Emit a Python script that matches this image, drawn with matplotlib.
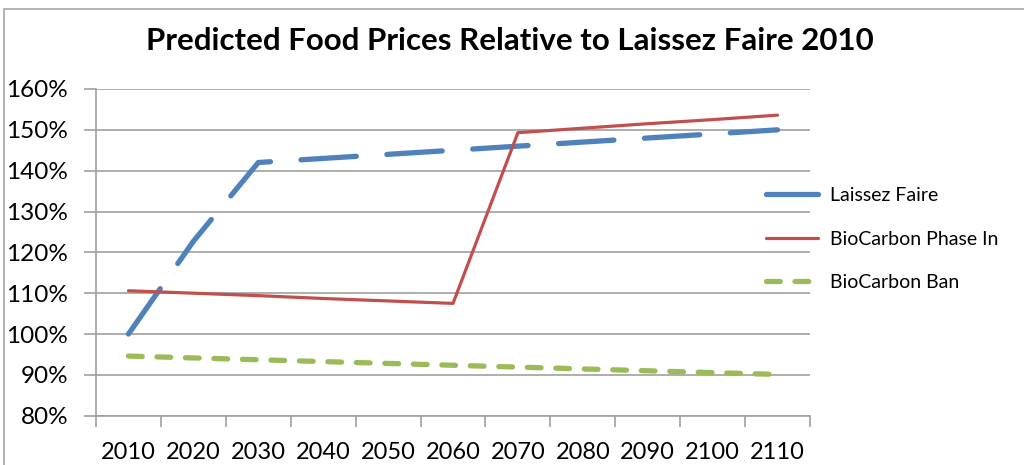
import matplotlib
matplotlib.use('Agg')
import matplotlib.pyplot as plt
from matplotlib.patches import Rectangle
from matplotlib.ticker import FuncFormatter

plt.rcParams['font.family'] = ['Lato', 'DejaVu Sans']

# data
years = ['2010', '2020', '2030', '2040', '2050', '2060',
         '2070', '2080', '2090', '2100', '2110']
laissez_faire = [100, 122.7, 142, 143, 144, 145, 146, 147, 148, 149, 150]
phase_in = [110.6, 110.0, 109.4, 108.7, 108.1, 107.5,
            149.3, 150.4, 151.5, 152.5, 153.6]
ban = [94.6, 94.15, 93.7, 93.25, 92.8, 92.35, 91.9, 91.45, 91.0, 90.55, 90.1]

blue = '#4F81BD'
red = '#C0504D'
green = '#9BBB59'
grey = '#A0A0A0'

fig = plt.figure(figsize=(10.24, 4.65), dpi=100)
fig.patches.append(Rectangle((4 / 1024, -0.1), 1.1, 1 - 9 / 465 + 0.1,
                             transform=fig.transFigure, fill=False,
                             edgecolor='#A6A6A6', linewidth=1.2))

ax = fig.add_axes([96 / 1024, 1 - 415.7 / 465, (810 - 96) / 1024, (415.7 - 89) / 465])

x = list(range(len(years)))
l1, = ax.plot(x, laissez_faire, color=blue, lw=3.8, label='Laissez Faire',
              dashes=(10.5, 5.8), dash_capstyle='round')
l2, = ax.plot(x, phase_in, color=red, lw=2.3, label='BioCarbon Phase In',
              solid_capstyle='round')
l3, = ax.plot(x, ban, color=green, lw=3.8, label='BioCarbon Ban',
              dashes=(2.6, 2.8), dash_capstyle='round')

ax.set_ylim(80, 160)
ax.set_yticks(range(80, 161, 10))
ax.yaxis.set_major_formatter(FuncFormatter(lambda v, p: '%d%%' % v))
ax.set_xlim(-0.5, len(years) - 0.5)
ax.set_xticks([i - 0.5 for i in range(len(years) + 1)])
ax.set_xticklabels([])
ax.set_xticks(x, minor=True)
ax.set_xticklabels(years, minor=True)

ax.grid(axis='y', color=grey, lw=1.2)
ax.set_axisbelow(True)
for s in ['top', 'right']:
    ax.spines[s].set_visible(False)
for s in ['left', 'bottom']:
    ax.spines[s].set_color(grey)
    ax.spines[s].set_linewidth(1.2)
ax.tick_params(axis='y', length=9, width=1.2, color=grey, labelsize=17.5, pad=11)
ax.tick_params(axis='x', which='major', length=8, width=1.2, color=grey)
ax.tick_params(axis='x', which='minor', length=0, labelsize=17, pad=19)

fig.text(0.498, 1 - 41 / 465, 'Predicted Food Prices Relative to Laissez Faire 2010',
         ha='center', va='center', fontsize=22.5, fontweight='bold')

fig.legend(handles=[l1, l2, l3], loc='center left', bbox_to_anchor=(748 / 1024, 1 - 239 / 465),
           frameon=False, fontsize=14, handlelength=2.7, handletextpad=0.6,
           labelspacing=1.35)

fig.savefig('out.png', dpi=100)
